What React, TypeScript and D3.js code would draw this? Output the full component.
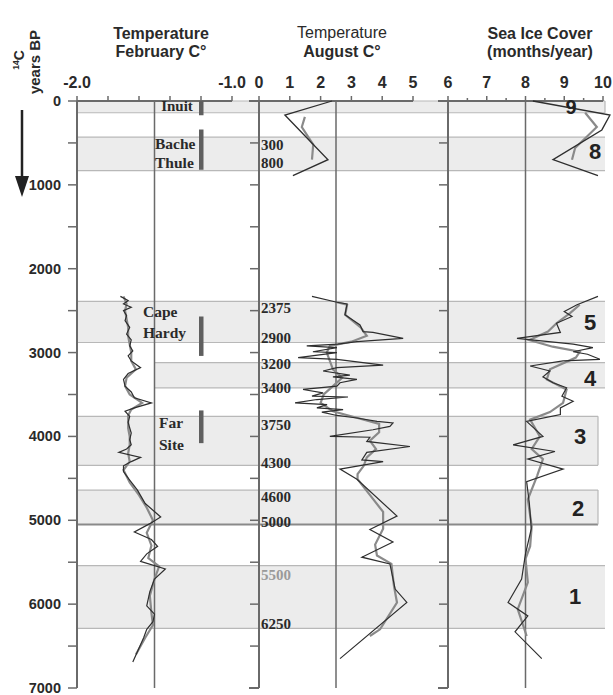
import React from "react";
import * as d3 from "d3";

// ---------- DATA ----------
const yearTicks = [0, 1000, 2000, 3000, 4000, 5000, 6000, 7000];
const minorYearTicks = [0, 500, 1000, 1500, 2000, 2500, 3000, 3500, 4000, 4500, 5000, 5500, 6000, 6500, 7000];

const febTickLabels = ["-2.0", "-1.0"];
const febTickLabelValues = [-2.0, -1.0];
const febTicks = [-2.0, -1.8, -1.6, -1.4, -1.2, -1.0];
const augTicks = [0, 1, 2, 3, 4, 5];
const iceTicks = [6, 7, 8, 9, 10];
const iceMinorTicks = [6.5, 7.5, 8.5, 9.5];

// zones: [top year, bottom year, label]
const zoneTop = [0, 430, 2390, 3120, 3760, 4640, 5540];
const zoneBottom = [140, 830, 2880, 3420, 4345, 5050, 6290];
const zoneNames = ["9", "8", "5", "4", "3", "2", "1"];
const zoneLabelYear = [60, 600, 2630, 3300, 4000, 4850, 5900];

// culture bars
const cultureBarTop = [0, 340, 2570, 3690];
const cultureBarBottom = [170, 820, 3040, 4080];

// date labels (panel 2)
const dateLabels = ["300", "800", "2375", "2900", "3200", "3400", "3750", "4300", "4600", "5000", "5500", "6250"];
const dateLabelYears = [520, 740, 2470, 2830, 3140, 3420, 3860, 4320, 4720, 5020, 5650, 6240];

// February temperature
const febRawYears = [2330, 2380, 2420, 2460, 2500, 2560, 2620, 2700, 2780, 2850, 2920, 2980, 3040, 3100, 3180, 3250, 3320, 3400, 3470, 3540, 3600, 3660, 3700, 3760, 3830, 3900, 3960, 4040, 4100, 4150, 4190, 4250, 4300, 4350, 4420, 4520, 4640, 4800, 4960, 5040, 5140, 5230, 5310, 5400, 5490, 5580, 5700, 5850, 6020, 6120, 6210, 6300, 6400, 6690];
const febRaw = [-1.72, -1.67, -1.70, -1.65, -1.70, -1.68, -1.69, -1.66, -1.68, -1.65, -1.66, -1.64, -1.67, -1.65, -1.59, -1.67, -1.70, -1.69, -1.65, -1.63, -1.52, -1.63, -1.69, -1.66, -1.67, -1.66, -1.65, -1.66, -1.65, -1.68, -1.73, -1.59, -1.65, -1.70, -1.70, -1.66, -1.61, -1.56, -1.46, -1.53, -1.63, -1.52, -1.48, -1.55, -1.59, -1.43, -1.50, -1.53, -1.55, -1.50, -1.51, -1.55, -1.57, -1.64];
const febSmoothYears = [2330, 2420, 2500, 2600, 2700, 2800, 2900, 3000, 3100, 3200, 3300, 3400, 3500, 3600, 3680, 3750, 3900, 4000, 4100, 4200, 4300, 4400, 4550, 4700, 4850, 5000, 5150, 5300, 5450, 5550, 5700, 5900, 6100, 6250, 6400, 6600];
const febSmooth = [-1.70, -1.68, -1.69, -1.68, -1.67, -1.67, -1.66, -1.65, -1.65, -1.62, -1.68, -1.69, -1.66, -1.58, -1.65, -1.67, -1.67, -1.66, -1.66, -1.67, -1.66, -1.70, -1.66, -1.60, -1.55, -1.51, -1.55, -1.52, -1.54, -1.47, -1.50, -1.53, -1.52, -1.51, -1.56, -1.62];

// August temperature
const augTopRawYears = [0, 167, 700, 890];
const augTopRaw = [2.37, 0.84, 2.24, 1.1];
const augTopSmoothYears = [190, 310, 520, 700];
const augTopSmooth = [1.49, 1.39, 1.76, 1.72];
const augRawYears = [2330, 2400, 2420, 2550, 2670, 2750, 2760, 2830, 2870, 2900, 2920, 2940, 2990, 3000, 3060, 3080, 3150, 3180, 3220, 3270, 3290, 3320, 3360, 3400, 3440, 3480, 3520, 3530, 3560, 3600, 3620, 3660, 3680, 3710, 3750, 3780, 3820, 3840, 3880, 3920, 4000, 4010, 4060, 4120, 4190, 4280, 4300, 4390, 4510, 4950, 5110, 5260, 5440, 5520, 5820, 5980, 6650];
const augRaw = [1.72, 2.53, 2.86, 2.79, 3.28, 3.38, 3.70, 4.68, 3.18, 2.56, 1.55, 2.53, 1.75, 2.53, 1.27, 2.53, 4.03, 2.53, 2.08, 2.95, 2.40, 3.18, 2.63, 2.53, 1.43, 2.08, 1.72, 2.89, 1.88, 1.17, 2.21, 1.88, 2.73, 2.04, 2.53, 3.18, 3.83, 4.35, 4.25, 3.70, 2.30, 3.60, 3.50, 4.90, 3.50, 3.34, 4.03, 2.63, 3.18, 4.48, 3.60, 4.35, 3.34, 4.25, 4.42, 4.80, 2.63];
const augSmoothYears = [2400, 2430, 2550, 2700, 2800, 2870, 2920, 3000, 3100, 3200, 3300, 3400, 3500, 3600, 3700, 3780, 3850, 3950, 4050, 4150, 4250, 4350, 4450, 4510, 4900, 5100, 5290, 5420, 5520, 5780, 5980, 6300, 6380];
const augSmooth = [2.53, 2.86, 2.80, 3.30, 3.50, 3.00, 2.30, 2.20, 2.30, 2.40, 2.70, 2.40, 2.10, 2.00, 2.40, 3.20, 3.90, 3.90, 3.60, 3.80, 3.50, 3.40, 3.20, 3.20, 4.03, 4.03, 3.77, 3.83, 4.30, 4.38, 4.48, 3.93, 3.60];

// Sea ice cover
const iceTopRawYears = [0, 167, 345, 700, 890];
const iceTopRaw = [8.19, 10.18, 9.97, 8.71, 9.87];
const iceTopSmoothYears = [140, 310, 560, 700];
const iceTopSmooth = [9.54, 9.84, 9.28, 9.2];
const iceRawYears = [2330, 2430, 2510, 2570, 2650, 2760, 2830, 2900, 2940, 2990, 3020, 3080, 3100, 3160, 3220, 3290, 3360, 3420, 3520, 3580, 3660, 3740, 3820, 4000, 4100, 4180, 4270, 4390, 4540, 4800, 5100, 5400, 5550, 5700, 5980, 6140, 6330, 6650];
const iceRaw = [9.87, 9.33, 9.00, 9.20, 8.80, 8.90, 7.78, 9.23, 9.74, 9.23, 9.60, 9.92, 8.97, 8.12, 8.63, 8.45, 8.71, 9.06, 8.94, 9.23, 8.90, 8.90, 8.03, 8.45, 7.68, 8.76, 8.06, 8.97, 8.03, 8.10, 8.15, 8.00, 7.95, 7.90, 7.55, 8.06, 7.73, 8.42];
const iceSmoothYears = [2430, 2530, 2650, 2750, 2850, 2930, 2990, 3060, 3200, 3320, 3440, 3600, 3710, 3800, 4000, 4150, 4270, 4470, 4750, 5070, 5310, 5460, 5740, 6060, 6380];
const iceSmooth = [9.40, 9.15, 8.80, 8.58, 8.10, 8.70, 9.40, 9.30, 8.63, 8.55, 9.06, 8.97, 8.63, 8.12, 8.37, 8.16, 8.45, 8.30, 8.06, 8.16, 8.12, 8.00, 8.06, 7.80, 8.03];

// ---------- CHART ----------
const W = 613;
const H = 695;
const SANS = "'Liberation Sans', Arial, sans-serif";
const SERIF = "'Liberation Serif', 'Times New Roman', serif";
const AXIS = "#6a6a6a";
const DARK = "#2e2e2e";
const GRAY = "#8a8a8a";
const TXT = "#2a2a2a";

export default function App() {
  const y = d3.scaleLinear().domain([0, 7000]).range([101, 688]);
  const xFeb = d3.scaleLinear().domain([-2, -1]).range([77, 232]);
  const xAug = d3.scaleLinear().domain([0, 5]).range([259, 413]);
  const xIce = d3.scaleLinear().domain([6, 10]).range([448, 603]);

  const mkLine = (xs: d3.ScaleLinear<number, number>, years: number[], vals: number[]) =>
    d3.line<number>().x((_, i) => xs(vals[i])).y((d) => y(d))(years) || "";

  const zoneLeft = (i: number) => (zoneNames[i] === "4" ? 155 : 77);
  const zoneRight = (i: number) => (zoneNames[i] === "3" || zoneNames[i] === "2" ? 598 : 605);
  const zoneNumX: Record<string, number> = { "9": 571, "8": 595, "5": 590, "4": 590, "3": 580, "2": 578, "1": 575 };

  return (
    <svg width={W} height={H} style={{ position: "absolute", left: 0, top: 0, background: "#fff" }}>
      <rect x={0} y={0} width={W} height={H} fill="#fff" />
      {/* zones */}
      {zoneNames.map((z, i) => (
        <g key={"z" + i}>
          <rect x={zoneLeft(i)} y={y(zoneTop[i])} width={zoneRight(i) - zoneLeft(i)} height={y(zoneBottom[i]) - y(zoneTop[i])} fill="#ececec" />
          <line x1={zoneLeft(i)} x2={zoneRight(i)} y1={y(zoneTop[i])} y2={y(zoneTop[i])} stroke="#b8b8b8" strokeWidth={1.2} />
          <line x1={zoneLeft(i)} x2={zoneRight(i)} y1={y(zoneBottom[i])} y2={y(zoneBottom[i])} stroke={z === "2" ? "#8a8a8a" : "#b8b8b8"} strokeWidth={z === "2" ? 1.8 : 1.2} />
          {(z === "3" || z === "2" || z === "9") && (
            <line x1={zoneRight(i)} x2={zoneRight(i)} y1={y(zoneTop[i])} y2={y(zoneBottom[i])} stroke="#b8b8b8" strokeWidth={1.2} />
          )}
        </g>
      ))}

      {/* reference vertical lines */}
      <line x1={xFeb(-1.5)} x2={xFeb(-1.5)} y1={y(0)} y2={y(7000)} stroke={AXIS} strokeWidth={1.5} />
      <line x1={xAug(2.5)} x2={xAug(2.5)} y1={y(0)} y2={y(7000)} stroke={AXIS} strokeWidth={1.5} />
      <line x1={xIce(8)} x2={xIce(8)} y1={y(0)} y2={y(7000)} stroke={AXIS} strokeWidth={1.5} />

      {/* Panel 1 axes */}
      <line x1={xFeb(-2)} x2={xFeb(-2)} y1={y(0)} y2={y(7000)} stroke={AXIS} strokeWidth={2} />
      <line x1={xFeb(-2)} x2={xFeb(-1)} y1={y(0)} y2={y(0)} stroke={AXIS} strokeWidth={2} />
      {febTicks.map((t) => (
        <line key={"ft" + t} x1={xFeb(t)} x2={xFeb(t)} y1={y(0)} y2={y(0) - 5} stroke={AXIS} strokeWidth={1.5} />
      ))}
      {minorYearTicks.map((t) => (
        <line key={"yt" + t} x1={xFeb(-2) - 9} x2={xFeb(-2)} y1={y(t)} y2={y(t)} stroke={AXIS} strokeWidth={1.5} />
      ))}
      {yearTicks.map((t) => (
        <text key={"yl" + t} x={61} y={y(t) + 5} textAnchor="end" fontFamily={SANS} fontWeight="bold" fontSize={14.5} fill={TXT}>{t}</text>
      ))}
      {febTickLabels.map((l, i) => (
        <text key={"fl" + l} x={xFeb(febTickLabelValues[i])} y={88} textAnchor="middle" fontFamily={SANS} fontWeight="bold" fontSize={16} fill={TXT}>{l}</text>
      ))}

      {/* Panel 2 axes */}
      <line x1={xAug(0)} x2={xAug(0)} y1={y(0)} y2={y(7000)} stroke={AXIS} strokeWidth={2} />
      <line x1={xAug(0) - 10} x2={xAug(5)} y1={y(0)} y2={y(0)} stroke={AXIS} strokeWidth={2} />
      <line x1={xAug(0) - 10} x2={xAug(0)} y1={y(7000)} y2={y(7000)} stroke={AXIS} strokeWidth={2} />
      {augTicks.map((t) => (
        <line key={"at" + t} x1={xAug(t)} x2={xAug(t)} y1={y(0)} y2={y(0) - 5} stroke={AXIS} strokeWidth={1.5} />
      ))}
      {minorYearTicks.slice(1, -1).map((t) => (
        <line key={"yt2" + t} x1={xAug(0) - 9} x2={xAug(0)} y1={y(t)} y2={y(t)} stroke={AXIS} strokeWidth={1.5} />
      ))}
      {augTicks.map((t) => (
        <text key={"al" + t} x={xAug(t)} y={88} textAnchor="middle" fontFamily={SANS} fontWeight="bold" fontSize={16} fill={TXT}>{t}</text>
      ))}

      {/* Panel 3 axes */}
      <line x1={xIce(6)} x2={xIce(6)} y1={y(0)} y2={y(7000)} stroke={AXIS} strokeWidth={2} />
      <line x1={xIce(6) - 10} x2={xIce(10)} y1={y(0)} y2={y(0)} stroke={AXIS} strokeWidth={2} />
      <line x1={xIce(6) - 10} x2={xIce(6)} y1={y(7000)} y2={y(7000)} stroke={AXIS} strokeWidth={2} />
      {iceTicks.map((t) => (
        <line key={"it" + t} x1={xIce(t)} x2={xIce(t)} y1={y(0)} y2={y(0) - 5} stroke={AXIS} strokeWidth={1.5} />
      ))}
      {iceMinorTicks.map((t) => (
        <line key={"im" + t} x1={xIce(t)} x2={xIce(t)} y1={y(0)} y2={y(0) - 3} stroke={AXIS} strokeWidth={1.5} />
      ))}
      {minorYearTicks.slice(1, -1).map((t) => (
        <line key={"yt3" + t} x1={xIce(6) - 9} x2={xIce(6)} y1={y(t)} y2={y(t)} stroke={AXIS} strokeWidth={1.5} />
      ))}
      {iceTicks.map((t) => (
        <text key={"il" + t} x={xIce(t)} y={88} textAnchor="middle" fontFamily={SANS} fontWeight="bold" fontSize={16} fill={TXT}>{t}</text>
      ))}

      {/* data lines */}
      <path d={mkLine(xFeb, febSmoothYears, febSmooth)} fill="none" stroke={GRAY} strokeWidth={2.2} />
      <path d={mkLine(xFeb, febRawYears, febRaw)} fill="none" stroke={DARK} strokeWidth={1.2} />
      <path d={mkLine(xAug, augTopSmoothYears, augTopSmooth)} fill="none" stroke={GRAY} strokeWidth={2.2} />
      <path d={mkLine(xAug, augTopRawYears, augTopRaw)} fill="none" stroke={DARK} strokeWidth={1.3} />
      <path d={mkLine(xAug, augSmoothYears, augSmooth)} fill="none" stroke={GRAY} strokeWidth={2.2} />
      <path d={mkLine(xAug, augRawYears, augRaw)} fill="none" stroke={DARK} strokeWidth={1.2} />
      <path d={mkLine(xIce, iceTopSmoothYears, iceTopSmooth)} fill="none" stroke={GRAY} strokeWidth={2.2} />
      <path d={mkLine(xIce, iceTopRawYears, iceTopRaw)} fill="none" stroke={DARK} strokeWidth={1.3} />
      <path d={mkLine(xIce, iceSmoothYears, iceSmooth)} fill="none" stroke={GRAY} strokeWidth={2.2} />
      <path d={mkLine(xIce, iceRawYears, iceRaw)} fill="none" stroke={DARK} strokeWidth={1.2} />

      {/* culture bars and labels */}
      {cultureBarTop.map((t, i) => (
        <rect key={"c" + i} x={xFeb(-1.2) - 2} y={y(t)} width={4.5} height={y(cultureBarBottom[i]) - y(t)} fill="#5f5f5f" />
      ))}
      <text x={177} y={111} textAnchor="middle" fontFamily={SERIF} fontWeight="bold" fontSize={15} fill={TXT}>Inuit</text>
      <text x={155} y={149} fontFamily={SERIF} fontWeight="bold" fontSize={15.5} fill={TXT}>Bache</text>
      <text x={155} y={168} fontFamily={SERIF} fontWeight="bold" fontSize={15.5} fill={TXT}>Thule</text>
      <text x={143} y={317} fontFamily={SERIF} fontWeight="bold" fontSize={15.5} fill={TXT}>Cape</text>
      <text x={143} y={338} fontFamily={SERIF} fontWeight="bold" fontSize={15.5} fill={TXT}>Hardy</text>
      <text x={159} y={428} fontFamily={SERIF} fontWeight="bold" fontSize={15.5} fill={TXT}>Far</text>
      <text x={159} y={450} fontFamily={SERIF} fontWeight="bold" fontSize={15.5} fill={TXT}>Site</text>

      {/* date labels */}
      {dateLabels.map((l, i) => (
        <text key={"d" + l} x={xAug(0) + 2} y={y(dateLabelYears[i]) + 5} fontFamily={SERIF} fontWeight="bold" fontSize={15} fill={l === "5500" ? "#9a9a9a" : TXT}>{l}</text>
      ))}

      {/* zone numbers */}
      {zoneNames.map((z, i) => (
        <text key={"zn" + z} x={zoneNumX[z]} y={y(zoneLabelYear[i]) + 8} textAnchor="middle" fontFamily={SANS} fontWeight="bold" fontSize={z === "9" ? 20 : 22} fill="#222">{z}</text>
      ))}

      {/* headers */}
      <text x={161} y={39} textAnchor="middle" fontFamily={SANS} fontWeight="bold" fontSize={16} fill={TXT}>Temperature</text>
      <text x={161} y={57} textAnchor="middle" fontFamily={SANS} fontWeight="bold" fontSize={16} fill={TXT}>February C°</text>
      <text x={342} y={38} textAnchor="middle" fontFamily={SANS} fontSize={16} fill={TXT}>Temperature</text>
      <text x={342} y={57} textAnchor="middle" fontFamily={SANS} fontWeight="bold" fontSize={16} fill={TXT}>August C°</text>
      <text x={540} y={39} textAnchor="middle" fontFamily={SANS} fontWeight="bold" fontSize={16} fill={TXT}>Sea Ice Cover</text>
      <text x={540} y={57} textAnchor="middle" fontFamily={SANS} fontWeight="bold" fontSize={16} fill={TXT}>(months/year)</text>

      {/* y axis title */}
      <text transform="translate(24,60) rotate(-90)" textAnchor="middle" fontFamily={SANS} fontWeight="bold" fontSize={14} fill={TXT}>
        <tspan fontSize={8.5} dy={-5}>14</tspan><tspan dy={5}>C</tspan>
      </text>
      <text transform="translate(40,62) rotate(-90)" textAnchor="middle" fontFamily={SANS} fontWeight="bold" fontSize={15} fill={TXT}>years BP</text>

      {/* arrow */}
      <line x1={22} x2={22} y1={110} y2={180} stroke="#222" strokeWidth={2.5} />
      <path d="M15,176 L29,176 L22,197 Z" fill="#222" />
    </svg>
  );
}
